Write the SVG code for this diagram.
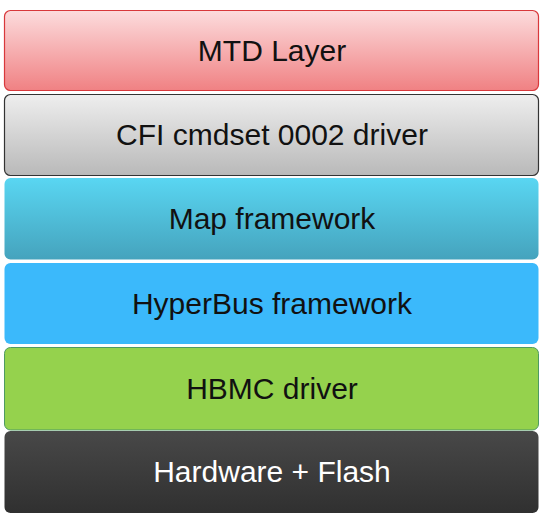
<svg xmlns="http://www.w3.org/2000/svg" width="543" height="515" viewBox="0 0 543 515">
<defs>
<linearGradient id="gRed" x1="0" y1="0" x2="0" y2="1"><stop offset="0" stop-color="#fcdcdd"/><stop offset="1" stop-color="#f08183"/></linearGradient>
<linearGradient id="gGray" x1="0" y1="0" x2="0" y2="1"><stop offset="0" stop-color="#eeeeee"/><stop offset="1" stop-color="#b9b9b9"/></linearGradient>
<linearGradient id="gCyan" x1="0" y1="0" x2="0" y2="1"><stop offset="0" stop-color="#59d6f2"/><stop offset="1" stop-color="#45a3bd"/></linearGradient>
<linearGradient id="gDark" x1="0" y1="0" x2="0" y2="1"><stop offset="0" stop-color="#484848"/><stop offset="1" stop-color="#303030"/></linearGradient>
</defs>
<style>
text{font-family:"Liberation Sans",Arial,sans-serif;font-size:30px;text-anchor:middle;fill:#111}
.w{fill:#ffffff}
</style>
<rect width="543" height="515" fill="#ffffff"/>
<g id="mtd"><rect x="4.5" y="10.5" width="534" height="80" rx="6" fill="url(#gRed)" stroke="#d8383b" stroke-width="1.2"/><text x="272" y="61">MTD Layer</text></g>
<g id="cfi"><rect x="4.5" y="94.5" width="534" height="81" rx="6" fill="url(#gGray)" stroke="#333333" stroke-width="1.2"/><text x="272" y="145">CFI cmdset 0002 driver</text></g>
<g id="map"><rect x="4.5" y="178" width="534" height="81.5" rx="6" fill="url(#gCyan)"/><text x="272" y="229">Map framework</text></g>
<g id="hyperbus"><rect x="4.5" y="263" width="534" height="81" rx="6" fill="#3bb9fb"/><text x="272" y="314">HyperBus framework</text></g>
<g id="hbmc"><rect x="4.5" y="347.5" width="534" height="82.5" rx="6" fill="#95d24d" stroke="#4e9a63" stroke-width="1"/><text x="272" y="399">HBMC driver</text></g>
<g id="hw"><rect x="4.5" y="431" width="534" height="82" rx="6" fill="url(#gDark)"/><text class="w" x="272" y="482">Hardware + Flash</text></g>
<g id="connectors"></g>
</svg>
